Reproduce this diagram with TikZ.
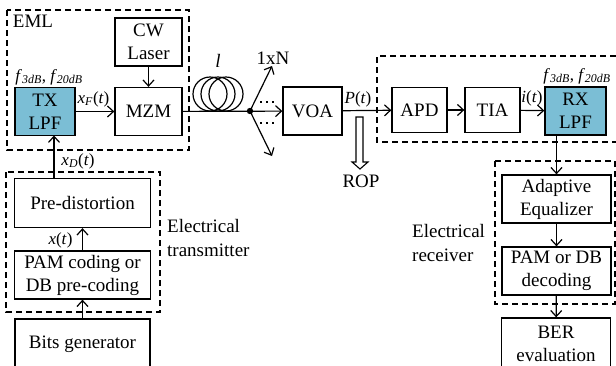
\documentclass[tikz,border=0pt]{standalone}
\usepackage{fontspec}
\setmainfont{Liberation Serif}
\usetikzlibrary{arrows.meta}
\definecolor{lpfblue}{HTML}{7BBED5}
\def\sigl#1#2{\textit{#1}\textsubscript{\textit{#2}}(\textit{t})}
\tikzset{
	box/.style={draw, line width=1.3pt, inner sep=0pt, align=center, font=\fontsize{19}{23}\selectfont},
	lpf/.style={box, fill=lpfblue},
	lab/.style={inner sep=0pt, align=left, font=\fontsize{19}{24}\selectfont},
	siglab/.style={inner sep=0pt, font=\fontsize{17}{20}\selectfont},
	group/.style={line width=1.2pt, dash pattern=on 6pt off 4pt},
	conn/.style={line width=1.2pt, ->, >={Straight Barb[length=6pt,width=11pt]}}
}
\begin{document}
\begin{tikzpicture}[x=1pt,y=-1pt]
	\useasboundingbox (0,0) rectangle (616,365);
	\clip (0,0) rectangle (616,365);
	%%%%% GROUPS %%%%%
	\draw[group] (7, 10) rectangle (189, 150);
	\draw[group] (6, 172) rectangle (160, 312);
	\draw[group] (616, 56) -- (377, 56) -- (377, 142) -- (616, 142);
	\draw[group] (495, 161) rectangle (615, 304);

	%%%%% BLOCKS %%%%%
	\node[lpf, minimum width=60pt, minimum height=48pt] (txlpf) at (45, 111.5) {TX\\LPF};
	\node[box, minimum width=67pt, minimum height=48pt] (mzm) at (148.5, 111.5) {MZM};
	\node[box, minimum width=67pt, minimum height=48pt] (laser) at (148.5, 42) {CW\\Laser};
	\node[box, minimum width=136pt, minimum height=49pt] (predist) at (82.5, 203) {Pre-distortion};
	\node[box, minimum width=136pt, minimum height=48pt] (coding) at (82.5, 275) {PAM coding or\\DB pre-coding};
	\node[box, minimum width=135pt, minimum height=50pt] (bits) at (82.5, 344) {Bits generator};
	\node[box, minimum width=59pt, minimum height=48pt] (voa) at (312.5, 111) {VOA};
	\node[box, minimum width=55pt, minimum height=45pt] (apd) at (419.5, 110) {APD};
	\node[box, minimum width=55pt, minimum height=45pt] (tia) at (492.5, 110) {TIA};
	\node[lpf, minimum width=61pt, minimum height=48pt] (rxlpf) at (575.5, 111) {RX\\LPF};
	\node[box, minimum width=109pt, minimum height=48pt] (equal) at (556.5, 199) {Adaptive\\Equalizer};
	\node[box, minimum width=109pt, minimum height=48pt] (decode) at (556.5, 271) {PAM or DB\\decoding};
	\node[box, minimum width=109pt, minimum height=52pt] (ber) at (556, 344) {BER\\evaluation};

	%%%%% LABELS %%%%%
	\node[lab] (eml) at (33, 21) {EML};
	\node[lab, anchor=west] (elec tx) at (167, 238) {Electrical\\transmitter};
	\node[lab, anchor=west] (elec rx) at (412, 243) {Electrical\\receiver};
	\node[lab] (oneN) at (273, 58) {1xN};
	\node[lab] (rop) at (361, 181) {ROP};
	\node[lab] (fibre) at (218, 61) {\textit{l}};
	\node[siglab] (ftx) at (49, 77) {\textit{f}\textsubscript{\textit{3dB}}, \textit{f}\textsubscript{\textit{20dB}}};
	\node[siglab] (frx) at (577, 76) {\textit{f}\textsubscript{\textit{3dB}}, \textit{f}\textsubscript{\textit{20dB}}};
	\node[siglab] (xf) at (93.5, 99) {\sigl{x}{F}};
	\node[siglab] (xd) at (78, 161) {\sigl{x}{D}};
	\node[siglab] (xt) at (60.5, 240) {\textit{x}(\textit{t})};
	\node[siglab] (pt) at (358, 99) {\textit{P}(\textit{t})};
	\node[siglab] (it) at (532, 98) {\textit{i}(\textit{t})};

	%%%%% FIBRE AND SPLITTER %%%%%
	\coordinate (split) at (250, 111);
	\coordinate (upper) at (272, 66);
	\coordinate (lower) at (272, 156);
	\draw[line width=1.2pt] (210, 94) circle (17);
	\draw[line width=1.2pt] (218, 94) circle (17);
	\draw[line width=1.2pt] (226, 94) circle (17);
	\draw[conn] (mzm) -- (voa);
	\fill (split) circle (3.2);
	\draw[conn] (split) -- (upper);
	\draw[conn] (split) -- (lower);
	\draw[line width=1.2pt, dash pattern=on 2pt off 4pt] (260, 102) -- (276, 102);
	\draw[line width=1.2pt, dash pattern=on 2pt off 4pt] (260, 123) -- (276, 123);

	%%%%% CONNECTORS %%%%%
	\coordinate (xdin) at (54, 135.5);
	\coordinate (pdout) at (54, 178.5);
	\coordinate (rxout) at (556.5, 135);
	\draw[conn] (laser) -- (mzm);
	\draw[conn] (txlpf) -- (mzm);
	\draw[conn] (pdout) -- (xdin);
	\draw[conn] (coding) -- (predist);
	\draw[conn] (bits) -- (coding);
	\draw[conn] (voa) -- (apd);
	\draw[conn] (apd) -- (tia);
	\draw[conn] (tia) -- (rxlpf);
	\draw[conn] (rxout) -- (equal.north);
	\draw[conn] (equal) -- (decode);
	\draw[conn] (decode) -- (ber);

	%%%%% ROP ARROW %%%%%
	\draw[line width=1.1pt, fill=white] (356, 117) -- (363, 117) -- (363, 162) -- (368, 162) -- (360, 169) -- (352, 162) -- (356, 162) -- cycle;
\end{tikzpicture}
\end{document}
